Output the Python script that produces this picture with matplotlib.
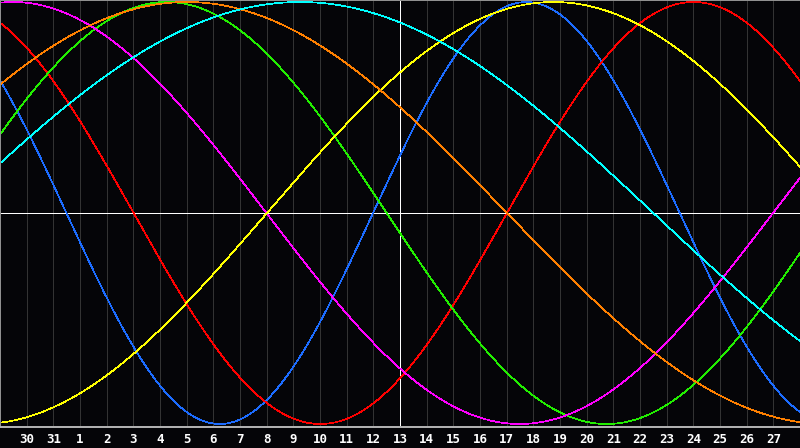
import numpy as np
import matplotlib
matplotlib.use("Agg")
import matplotlib.pyplot as plt

# ---- data ----
day_labels = ["30", "31", "1", "2", "3", "4", "5", "6", "7", "8", "9", "10", "11",
              "12", "13", "14", "15", "16", "17", "18", "19", "20", "21", "22",
              "23", "24", "25", "26", "27"]
today_index = 15           # grid position of "13" (white vertical line)
cycle_lengths = [23, 28, 33, 38, 43, 48, 53]          # days per cycle
rise_day = [13.99, 19.01, 31.0, 28.99, 10.01, -4.99, -2.0]  # grid day where the curve crosses 0 upward
colors = ["#1c6cff", "#ff0000", "#22ee00", "#ff00ff", "#ffff00", "#ff8000", "#00ffff"]

W, H = 800, 448
fig = plt.figure(figsize=(W / 100, H / 100), dpi=100)
fig.patch.set_facecolor("#050508")

plot_h = 428
ax = fig.add_axes([0, (H - plot_h) / H, 1, plot_h / H])
ax.set_facecolor("#050508")
n_days = len(day_labels) + 1
ax.set_xlim(0, n_days)
ax.set_ylim((213 - plot_h) / 211, 213 / 211)
ax.set_xticks([])
ax.set_yticks([])
for s in ax.spines.values():
    s.set_visible(False)

px = 0.72  # one pixel in points

# grid lines
for k in range(1, n_days):
    ax.axvline(k, color="#333333", lw=px, antialiased=False, zorder=1)
ax.axhline(0, color="#ffffff", lw=px, antialiased=False, zorder=2)
ax.axvline(today_index, color="#ffffff", lw=px, antialiased=False, zorder=2)

# borders
ax.axvline(0.01, color="#909090", lw=px, antialiased=False, zorder=5)
ax.axhline(213 / 211 - 0.002, color="#909090", lw=px, antialiased=False, zorder=5)
ax.axhline((213 - plot_h) / 211 + 0.003, color="#b0b0b0", lw=px * 1.5, antialiased=False, zorder=5)

t = np.linspace(0, n_days, 3000)
for P, r, c in zip(cycle_lengths, rise_day, colors):
    ax.plot(t, np.sin(2 * np.pi * (t - r) / P), color=c, lw=0.5,
            antialiased=False, zorder=3)

for k, lab in enumerate(day_labels, start=1):
    fig.text(k / n_days, 1 - 439 / H, lab, color="white", ha="center", va="center",
             fontsize=9, fontweight="bold", family="DejaVu Sans Mono")

fig.savefig("out.png", dpi=100, facecolor=fig.get_facecolor())
